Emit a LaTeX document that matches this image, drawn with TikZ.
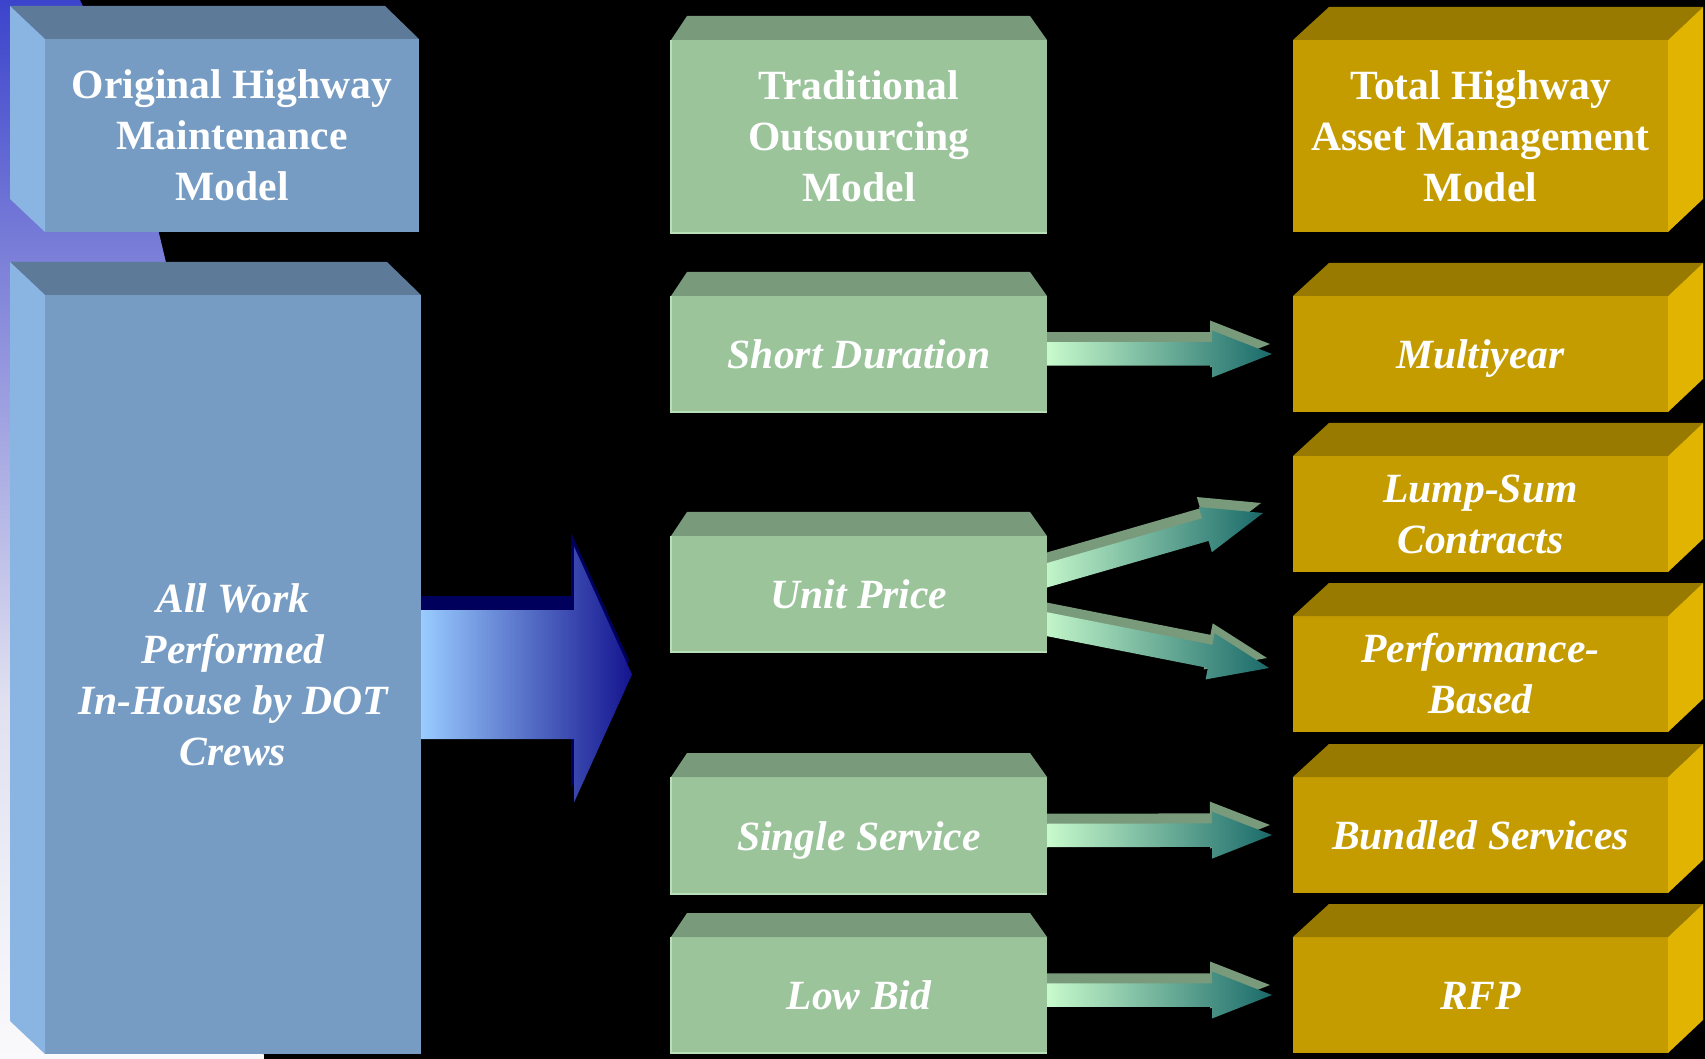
\documentclass[tikz,border=0pt]{standalone}
\usepackage{fontspec}
\setmainfont{Liberation Serif}
\usetikzlibrary{calc}
\definecolor{bfront}{HTML}{769CC4}
\definecolor{btop}{HTML}{5D7A98}
\definecolor{bside}{HTML}{8AB4E2}
\definecolor{gfront}{HTML}{9BC49B}
\definecolor{gtop}{HTML}{7A9A7C}
\definecolor{gedge}{HTML}{B8E0B8}
\definecolor{ofront}{HTML}{C49C00}
\definecolor{otop}{HTML}{997A00}
\definecolor{oside}{HTML}{E0B400}
\definecolor{bgA}{HTML}{3C44CC}
\definecolor{bgB}{HTML}{7C80D8}
\definecolor{bgC}{HTML}{E0E0F0}
\definecolor{bgD}{HTML}{FAFAFC}
\definecolor{gl}{HTML}{C8FACC}
\definecolor{gm}{HTML}{A8D8B0}
\definecolor{gr}{HTML}{1A6A6A}
\definecolor{bal}{HTML}{99CCFF}
\definecolor{bar}{HTML}{14148F}
\definecolor{bnavy}{HTML}{00005C}
\pgfdeclarelayer{back}
\pgfdeclarelayer{mid}
\pgfsetlayers{back,mid,main}
\pgfdeclareverticalshading{bgsh}{100bp}{color(0bp)=(bgD); color(25bp)=(bgD); color(42bp)=(bgC); color(62.7bp)=(bgB); color(75bp)=(bgA); color(100bp)=(bgA)}
\tikzset{
  face/.style={inner sep=0pt, outer sep=0pt, text=white, align=center},
  titlefont/.style={font=\fontsize{20.8}{25.5}\selectfont\bfseries},
  itfont/.style={font=\fontsize{20.8}{25.5}\selectfont\bfseries\itshape},
  oneline/.style={text height=14.5pt, text depth=0pt},
  multi/.style={execute at begin node={\rule{0pt}{16.4pt}}},
  bluefr/.style={face, fill=bfront},
  greenfr/.style={face, fill=gfront},
  goldfr/.style={face, fill=ofront},
}
\newcommand{\frontbox}[7]{\node[#1, minimum width={0.5pt*(#4-#2)}, minimum height={0.5pt*(#5-#3)}] (#6) at ({(#2+#4)/2},{(#3+#5)/2}) {#7};}
\newcommand{\bluefaces}[1]{%
  \fill[btop] (#1.north west) -- ++(-35,-33) -- ($(#1.north east)+(-34,-33)$) -- (#1.north east) -- cycle;
  \fill[bside] (#1.north west) -- ++(-35,-33) -- ($(#1.south west)+(-35,-33)$) -- (#1.south west) -- cycle;}
\newcommand{\greenfaces}[1]{%
  \fill[gtop] (#1.north west) -- ($(#1.north west)+(16,-24)$) -- ($(#1.north east)+(-17,-24)$) -- (#1.north east) -- cycle;
  \draw[gedge, line width=0.6pt] (#1.north west) -- (#1.south west) -- (#1.south east);}
\newcommand{\goldfaces}[1]{%
  \fill[otop] (#1.north west) -- ++(36,-33) -- ($(#1.north east)+(35,-33)$) -- (#1.north east) -- cycle;
  \fill[oside] (#1.north east) -- ++(35,-33) -- ($(#1.south east)+(35,-33)$) -- (#1.south east) -- cycle;}
\newcommand{\fatarrow}[6]{%
  \coordinate (fa-hb) at ($(#3)!#6!(#2)$);
  \path[#1] ($(#2)!#4!90:(#3)$) -- ($(fa-hb)!#4!90:(#3)$) -- ($(fa-hb)!#5!90:(#3)$) -- (#3)
    -- ($(fa-hb)!#5!-90:(#3)$) -- ($(fa-hb)!#4!-90:(#3)$) -- ($(#2)!#4!-90:(#3)$) -- cycle;}
\newcommand{\greenarrow}[2]{%
  \coordinate (ga-s) at ($(#1)+(-2,-10)$);
  \coordinate (ga-t) at ($(#2)+(-2,-10)$);
  \fatarrow{fill=gtop}{ga-s}{ga-t}{5.875pt}{11.75pt}{30pt}
  \fatarrow{left color=gl, middle color=gm, right color=gr}{#1}{#2}{5.875pt}{11.75pt}{30pt}}
\begin{document}
\begin{tikzpicture}[x=0.5pt,y=-0.5pt]
\useasboundingbox (0,0) rectangle (1705,1059);
\begin{pgfonlayer}{back}
  \fill[black] (0,0) rectangle (1705,1059);
  \shade[shading=bgsh] (0,0) -- (80,0) .. controls (190,230) and (240,650) .. (264,1059) -- (0,1059) -- cycle;
\end{pgfonlayer}

% left column
\frontbox{bluefr,titlefont,multi}{45}{39}{419}{232}{ohm}{Original Highway\\Maintenance\\Model}
\bluefaces{ohm}
\frontbox{bluefr,itfont,multi}{45}{295}{421}{1054}{aw}{All Work\\Performed\\In-House by DOT\\Crews}
\bluefaces{aw}

% middle column
\frontbox{greenfr,titlefont,multi}{671}{40}{1047}{233}{tom}{Traditional\\Outsourcing\\Model}
\greenfaces{tom}
\frontbox{greenfr,itfont,oneline}{671}{296}{1047}{412}{sd}{Short Duration}
\greenfaces{sd}
\frontbox{greenfr,itfont,oneline}{671}{536}{1047}{652}{up}{Unit Price}
\greenfaces{up}
\frontbox{greenfr,itfont,oneline}{671}{777}{1047}{894}{ss}{Single Service}
\greenfaces{ss}
\frontbox{greenfr,itfont,oneline}{671}{937}{1047}{1053}{lb}{Low Bid}
\greenfaces{lb}

% right column
\frontbox{goldfr,titlefont,multi}{1293}{40}{1668}{232}{tham}{Total Highway\\Asset Management\\Model}
\goldfaces{tham}
\frontbox{goldfr,itfont,oneline}{1293}{296}{1668}{412}{my}{Multiyear}
\goldfaces{my}
\frontbox{goldfr,itfont,multi}{1293}{456}{1668}{572}{ls}{Lump-Sum\\Contracts}
\goldfaces{ls}
\frontbox{goldfr,itfont,multi}{1293}{616}{1668}{732}{pb}{Performance-\\Based}
\goldfaces{pb}
\frontbox{goldfr,itfont,oneline}{1293}{777}{1668}{893}{bs}{Bundled Services}
\goldfaces{bs}
\frontbox{goldfr,itfont,oneline}{1293}{937}{1668}{1053}{rfp}{RFP}
\goldfaces{rfp}

% connectors
\begin{pgfonlayer}{mid}
  % big blue arrow
  \coordinate (ba-s) at (aw.east);
  \coordinate (ba-t) at ($(aw.east)+(211,0)$);
  \coordinate (ba-s2) at ($(ba-s)+(-3,-14)$);
  \coordinate (ba-t2) at ($(ba-t)+(-3,-14)$);
  \fatarrow{fill=bnavy}{ba-s2}{ba-t2}{32.25pt}{64pt}{29pt}
  \fatarrow{left color=bal, right color=bar}{ba-s}{ba-t}{32.25pt}{64pt}{29pt}
  % green arrows
  \coordinate (a1s) at (sd.east);
  \coordinate (a1t) at ($(my.west)+(-21,0)$);
  \greenarrow{a1s}{a1t}
  \coordinate (a2s) at ($(up.east)+(-6,-17)$);
  \coordinate (a2t) at ($(ls.west)+(-30,-1)$);
  \greenarrow{a2s}{a2t}
  \coordinate (a3s) at ($(up.east)+(-6,29)$);
  \coordinate (a3t) at ($(pb.west)+(-24,-6)$);
  \greenarrow{a3s}{a3t}
  \coordinate (a4s) at (ss.east);
  \coordinate (a4t) at ($(bs.west)+(-21,0)$);
  \greenarrow{a4s}{a4t}
  \coordinate (a5s) at (lb.east);
  \coordinate (a5t) at ($(rfp.west)+(-21,0)$);
  \greenarrow{a5s}{a5t}
\end{pgfonlayer}
\end{tikzpicture}
\end{document}
